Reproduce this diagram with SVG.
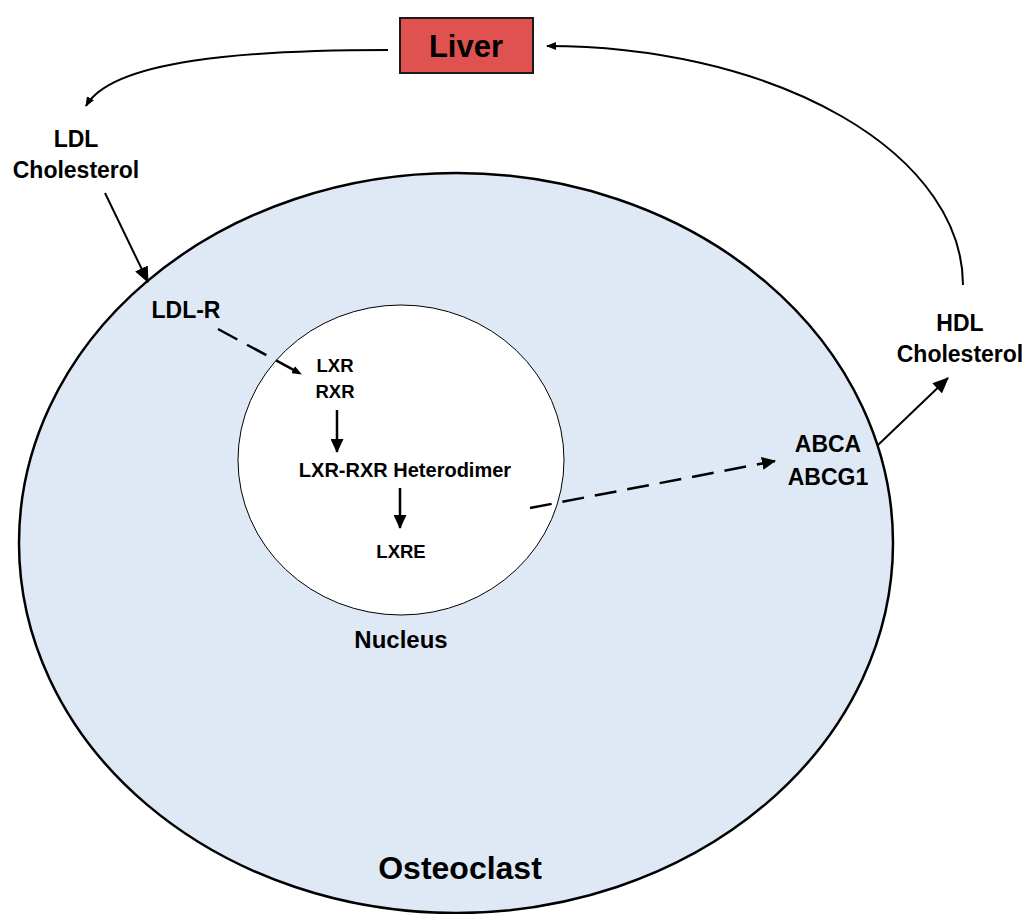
<svg xmlns="http://www.w3.org/2000/svg" width="1028" height="914" viewBox="0 0 1028 914">
<style>
text{font-family:"Liberation Sans",Arial,sans-serif;font-weight:bold;fill:#000;text-anchor:middle}
.lbl{font-size:23px}
.sm{font-size:18.5px}
.conn{fill:none;stroke:#000}
</style>
<defs>
<marker id="big" markerUnits="userSpaceOnUse" markerWidth="16" markerHeight="14" refX="15" refY="7" orient="auto"><path d="M0,0 L16,7 L0,14 z" fill="#000"/></marker>
<marker id="mid" markerUnits="userSpaceOnUse" markerWidth="14" markerHeight="13" refX="13" refY="6.5" orient="auto"><path d="M0,0 L14,6.5 L0,13 z" fill="#000"/></marker>
<marker id="small" markerUnits="userSpaceOnUse" markerWidth="10" markerHeight="8" refX="9" refY="4" orient="auto"><path d="M0,0 L10,4 L0,8 z" fill="#000"/></marker>
</defs>
<rect width="1028" height="914" fill="#fff"/>
<g id="osteoclast">
<ellipse cx="456" cy="543" rx="437" ry="370" fill="#DEE9F5" stroke="#000" stroke-width="2.5"/>
<text x="460" y="879" style="font-size:32px">Osteoclast</text>
</g>
<g id="nucleus">
<ellipse cx="401" cy="460" rx="163" ry="155" fill="#fff" stroke="#000" stroke-width="1"/>
<text x="401" y="648" style="font-size:24px">Nucleus</text>
</g>
<g id="liver">
<rect x="400" y="18" width="133" height="55" fill="#E0524F" stroke="#1a1a1a" stroke-width="2"/>
<text x="466" y="57" style="font-size:31px">Liver</text>
</g>
<g id="ldl-cholesterol"><text class="lbl" x="76" y="147">LDL</text><text class="lbl" x="76" y="178">Cholesterol</text></g>
<g id="hdl-cholesterol"><text class="lbl" x="960" y="331">HDL</text><text class="lbl" x="960" y="362">Cholesterol</text></g>
<g id="ldl-r"><text class="lbl" x="186" y="318">LDL-R</text></g>
<g id="abca"><text class="lbl" x="828" y="452">ABCA</text><text class="lbl" x="828" y="485">ABCG1</text></g>
<g id="lxr-rxr"><text class="sm" x="335" y="372">LXR</text><text class="sm" x="335" y="398">RXR</text></g>
<g id="heterodimer"><text x="405" y="477" style="font-size:20px">LXR-RXR Heterodimer</text></g>
<g id="lxre"><text class="sm" x="401" y="558">LXRE</text></g>
<g id="connectors">
<path class="conn" d="M388,50 C245,50 112,60 86,106" stroke-width="2" marker-end="url(#small)"/>
<path class="conn" d="M963,285 A416,239 0 0 0 547,46" stroke-width="2" marker-end="url(#small)"/>
<path class="conn" d="M105,193 L148,282" stroke-width="2" marker-end="url(#big)"/>
<path class="conn" d="M878,445 L948,378" stroke-width="2" marker-end="url(#big)"/>
<path class="conn" d="M218,329 L301,374" stroke-width="2.5" stroke-dasharray="22,11" marker-end="url(#small)"/>
<path class="conn" d="M530,508 L775,461" stroke-width="2.5" stroke-dasharray="22,11" marker-end="url(#mid)"/>
<path class="conn" d="M337,410 L337,452" stroke-width="2.5" marker-end="url(#mid)"/>
<path class="conn" d="M400,488 L400,528" stroke-width="2.5" marker-end="url(#mid)"/>
</g>
</svg>
